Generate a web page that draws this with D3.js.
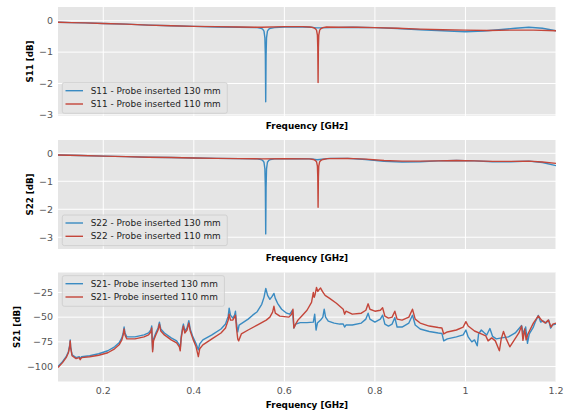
<!DOCTYPE html>
<html><head><meta charset="utf-8">
<script src="https://cdn.jsdelivr.net/npm/d3@7"></script>
<style>body{margin:0;background:#fff;} svg{display:block;} text{font-family:"DejaVu Sans",sans-serif;}</style>
</head><body><svg id="c" width="569" height="416"></svg>
<script>
const xTicks=[0.2,0.4,0.6,0.8,1.0,1.2];
const xTickLabels=["0.2","0.4","0.6","0.8","1","1.2"];
const s11Ticks=[0,-1,-2,-3];
const s22Ticks=[0,-1,-2,-3];
const s21Ticks=[-25,-50,-75,-100];
const s11Names=["S11 - Probe inserted 130 mm","S11 - Probe inserted 110 mm"];
const s22Names=["S22 - Probe inserted 130 mm","S22 - Probe inserted 110 mm"];
const s21Names=["S21- Probe inserted 130 mm","S21- Probe inserted 110 mm"];

const s11_130=[[0.10,-0.05],[0.13,-0.06],[0.16,-0.07],[0.20,-0.09],[0.25,-0.11],[0.30,-0.14],[0.35,-0.16],[0.40,-0.18],[0.45,-0.20],[0.50,-0.21],[0.540,-0.22],[0.548,-0.24],[0.552,-0.27],[0.555,-0.33],[0.557,-0.55],[0.558,-1.10],[0.5588,-2.58],[0.5596,-1.10],[0.5606,-0.55],[0.5626,-0.33],[0.5656,-0.27],[0.5696,-0.24],[0.578,-0.22],[0.60,-0.20],[0.64,-0.20],[0.66,-0.21],[0.67,-0.23],[0.68,-0.23],[0.70,-0.22],[0.75,-0.21],[0.80,-0.22],[0.85,-0.25],[0.90,-0.29],[0.95,-0.32],[1.00,-0.35],[1.04,-0.33],[1.08,-0.28],[1.11,-0.24],[1.14,-0.21],[1.17,-0.24],[1.20,-0.32]];
const s11_110=[[0.10,-0.05],[0.13,-0.06],[0.16,-0.07],[0.20,-0.09],[0.25,-0.11],[0.30,-0.14],[0.35,-0.16],[0.40,-0.18],[0.45,-0.19],[0.50,-0.20],[0.55,-0.21],[0.60,-0.19],[0.64,-0.19],[0.656,-0.20],[0.664,-0.22],[0.668,-0.25],[0.671,-0.30],[0.673,-0.46],[0.6738,-0.85],[0.6745,-1.97],[0.6752,-0.85],[0.676,-0.46],[0.678,-0.30],[0.681,-0.25],[0.685,-0.22],[0.693,-0.20],[0.72,-0.21],[0.76,-0.21],[0.80,-0.22],[0.85,-0.24],[0.90,-0.27],[0.95,-0.29],[1.00,-0.30],[1.05,-0.31],[1.10,-0.30],[1.15,-0.30],[1.20,-0.32]];

const s22_130=[[0.10,-0.06],[0.15,-0.08],[0.20,-0.10],[0.25,-0.12],[0.30,-0.14],[0.35,-0.15],[0.40,-0.17],[0.45,-0.18],[0.50,-0.19],[0.540,-0.20],[0.548,-0.22],[0.552,-0.25],[0.555,-0.32],[0.557,-0.56],[0.558,-1.20],[0.5588,-2.88],[0.5596,-1.20],[0.5606,-0.56],[0.5626,-0.32],[0.5656,-0.25],[0.5696,-0.22],[0.578,-0.20],[0.62,-0.19],[0.66,-0.20],[0.672,-0.23],[0.678,-0.22],[0.70,-0.18],[0.74,-0.18],[0.78,-0.22],[0.82,-0.29],[0.86,-0.31],[0.90,-0.30],[0.94,-0.27],[0.98,-0.26],[1.02,-0.27],[1.06,-0.30],[1.10,-0.30],[1.14,-0.28],[1.17,-0.33],[1.20,-0.44]];
const s22_110=[[0.10,-0.06],[0.15,-0.08],[0.20,-0.10],[0.25,-0.12],[0.30,-0.14],[0.35,-0.15],[0.40,-0.17],[0.45,-0.18],[0.50,-0.19],[0.55,-0.20],[0.60,-0.19],[0.655,-0.20],[0.664,-0.22],[0.668,-0.25],[0.671,-0.30],[0.673,-0.46],[0.6738,-0.85],[0.6745,-1.93],[0.6752,-0.85],[0.676,-0.46],[0.678,-0.30],[0.681,-0.25],[0.685,-0.22],[0.695,-0.19],[0.74,-0.18],[0.78,-0.21],[0.82,-0.26],[0.86,-0.28],[0.90,-0.28],[0.94,-0.27],[0.98,-0.26],[1.02,-0.27],[1.06,-0.29],[1.10,-0.29],[1.14,-0.28],[1.17,-0.31],[1.20,-0.36]];

const s21_130=[[0.100,-100],[0.110,-95],[0.118,-90],[0.123,-85],[0.126,-78],[0.127,-73],[0.128,-80],[0.131,-88],[0.140,-91],[0.147,-90],[0.149,-92],[0.152,-90],[0.170,-89],[0.190,-87],[0.210,-84],[0.225,-80],[0.235,-76],[0.241,-71],[0.244,-66],[0.246,-60],[0.248,-66],[0.252,-70],[0.270,-70],[0.290,-68],[0.300,-66],[0.305,-63],[0.307,-59],[0.308,-72],[0.309,-83],[0.311,-72],[0.316,-66],[0.321,-61],[0.324,-55],[0.327,-62],[0.335,-66],[0.350,-71],[0.362,-74],[0.368,-78],[0.370,-82],[0.372,-70],[0.375,-61],[0.377,-57],[0.380,-64],[0.385,-61],[0.389,-53.5],[0.392,-62],[0.398,-70],[0.405,-77],[0.410,-83],[0.413,-77],[0.420,-73],[0.440,-68],[0.460,-62],[0.470,-57],[0.476,-49],[0.478,-41],[0.481,-48],[0.486,-51],[0.490,-48],[0.492,-44],[0.494,-55],[0.497,-65],[0.500,-58],[0.510,-55],[0.520,-52],[0.530,-48],[0.540,-44.5],[0.550,-37],[0.555,-30],[0.559,-21],[0.563,-28],[0.568,-32],[0.573,-29],[0.577,-26],[0.580,-31],[0.585,-36],[0.594,-42],[0.605,-46],[0.612,-47],[0.615,-45],[0.618,-43],[0.621,-61],[0.625,-57],[0.635,-55.5],[0.650,-55.5],[0.664,-55],[0.667,-47],[0.670,-63],[0.673,-56],[0.680,-53],[0.685,-50],[0.688,-42],[0.691,-50],[0.697,-54],[0.710,-56],[0.722,-57],[0.730,-57],[0.733,-60],[0.736,-58],[0.750,-58],[0.770,-56],[0.780,-52],[0.785,-46],[0.789,-52],[0.800,-55],[0.812,-52],[0.817,-48],[0.822,-57],[0.830,-59],[0.838,-57],[0.844,-50.5],[0.849,-60],[0.860,-60],[0.875,-56],[0.883,-48],[0.889,-58],[0.900,-62],[0.920,-64.5],[0.940,-66],[0.948,-66.5],[0.952,-74],[0.960,-72],[0.980,-70],[0.995,-68],[1.001,-63],[1.006,-70],[1.014,-75],[1.020,-73],[1.026,-79],[1.029,-67],[1.035,-63],[1.042,-66],[1.047,-68],[1.054,-61.5],[1.060,-69.5],[1.068,-72],[1.080,-71],[1.095,-70],[1.110,-66],[1.124,-58.5],[1.128,-67],[1.133,-60],[1.137,-76.5],[1.141,-67],[1.150,-60],[1.155,-54],[1.161,-48.2],[1.166,-55],[1.172,-54],[1.178,-56],[1.184,-53],[1.188,-61],[1.192,-58],[1.200,-57]];

const s21_110=[[0.100,-101],[0.110,-96],[0.118,-91],[0.123,-86],[0.126,-79],[0.127,-74],[0.128,-81],[0.131,-89],[0.140,-92],[0.147,-91],[0.149,-93],[0.152,-91],[0.170,-90],[0.190,-88.5],[0.210,-86],[0.225,-82],[0.235,-78],[0.241,-73],[0.244,-68],[0.246,-62],[0.248,-68],[0.252,-72],[0.270,-72],[0.290,-70],[0.300,-68],[0.305,-65],[0.307,-61],[0.308,-74],[0.309,-85],[0.311,-74],[0.316,-68],[0.321,-63],[0.324,-57],[0.327,-64],[0.335,-68],[0.350,-73],[0.362,-76],[0.368,-80],[0.370,-84],[0.372,-72],[0.375,-63],[0.377,-59],[0.380,-66],[0.385,-63],[0.389,-56],[0.392,-64],[0.398,-72],[0.405,-80],[0.410,-90],[0.413,-82],[0.420,-78],[0.440,-72],[0.460,-66],[0.470,-61],[0.476,-53],[0.478,-47],[0.481,-53],[0.486,-53],[0.490,-50],[0.492,-48],[0.494,-60],[0.497,-72],[0.499,-74],[0.505,-67],[0.520,-63],[0.540,-58],[0.560,-53],[0.568,-50],[0.574,-45],[0.577,-39],[0.580,-46],[0.590,-49],[0.610,-50],[0.616,-47],[0.619,-42],[0.621,-61],[0.625,-57],[0.630,-53],[0.640,-48],[0.650,-43],[0.660,-35],[0.664,-25],[0.666,-30],[0.668,-27],[0.671,-20],[0.674,-24],[0.677,-22],[0.680,-20.5],[0.684,-24],[0.690,-28],[0.700,-31],[0.715,-36],[0.730,-42],[0.733,-47],[0.736,-44],[0.750,-47],[0.770,-46],[0.780,-43],[0.785,-36.5],[0.789,-42],[0.800,-44],[0.812,-43],[0.817,-40.5],[0.822,-49],[0.830,-51],[0.838,-50],[0.844,-44],[0.849,-52],[0.860,-53],[0.875,-50],[0.883,-42],[0.889,-52],[0.900,-56],[0.920,-59],[0.940,-60.5],[0.948,-61],[0.952,-67],[0.960,-65],[0.980,-63],[0.995,-60],[1.001,-54.6],[1.006,-59],[1.020,-64],[1.035,-67],[1.045,-69],[1.050,-74],[1.058,-71],[1.066,-74],[1.075,-84],[1.079,-72],[1.084,-64.5],[1.090,-72],[1.098,-80],[1.108,-73],[1.118,-66],[1.124,-59],[1.127,-73.5],[1.131,-62],[1.134,-73],[1.138,-67],[1.150,-56],[1.161,-48.8],[1.168,-53],[1.176,-56],[1.183,-53],[1.189,-60],[1.193,-57],[1.200,-56]];

const colors=["#3a8bc2","#c4463a"];
const X0=58, X1=556;
const panels=[
 {top:7,bottom:116,dom:[-3.035,0.436],ticks:s11Ticks,series:[s11_130,s11_110],names:s11Names,ylab:"S11 [dB]",ylabX:30,legTop:82.7,xlabY:128.5,showX:false},
 {top:140,bottom:249,dom:[-3.42,0.475],ticks:s22Ticks,series:[s22_130,s22_110],names:s22Names,ylab:"S22 [dB]",ylabX:30,legTop:215,xlabY:260.5,showX:false},
 {top:272.5,bottom:381.5,dom:[-115.1,-4.84],ticks:s21Ticks,series:[s21_130,s21_110],names:s21Names,ylab:"S21 [dB]",ylabX:16.5,legTop:275.7,xlabY:407.5,showX:true}
];
const svg=d3.select("#c");
const x=d3.scaleLinear().domain([0.1,1.2]).range([X0,X1]);
const fmt=d3.format("~g");
panels.forEach((p,i)=>{
  const y=d3.scaleLinear().domain(p.dom).range([p.bottom,p.top]);
  const g=svg.append("g");
  g.append("rect").attr("x",X0).attr("y",p.top).attr("width",X1-X0).attr("height",p.bottom-p.top).attr("fill","#e5e5e5");
  g.append("clipPath").attr("id","cp"+i).append("rect").attr("x",X0).attr("y",p.top).attr("width",X1-X0).attr("height",p.bottom-p.top);
  g.selectAll(".vg").data(xTicks).enter().append("line").attr("x1",d=>x(d)).attr("x2",d=>x(d)).attr("y1",p.top).attr("y2",p.bottom).attr("stroke","#fff").attr("stroke-width",1);
  g.selectAll(".hg").data(p.ticks).enter().append("line").attr("x1",X0).attr("x2",X1).attr("y1",d=>y(d)).attr("y2",d=>y(d)).attr("stroke","#fff").attr("stroke-width",1);
  g.selectAll(".yt").data(p.ticks).enter().append("text").attr("x",53).attr("y",d=>y(d)).attr("dy","0.35em").attr("text-anchor","end").attr("font-size","9.5px").attr("fill","#555").text(d=>fmt(d));
  if(p.showX){
    g.selectAll(".xt").data(xTicks).enter().append("text").attr("x",d=>x(d)).attr("y",394).attr("text-anchor","middle").attr("font-size","9.5px").attr("fill","#555").text((d,j)=>xTickLabels[j]);
  }
  const line=d3.line().x(d=>x(d[0])).y(d=>y(d[1]));
  const lg=g.append("g").attr("clip-path","url(#cp"+i+")");
  p.series.forEach((s,k)=>{
    lg.append("path").datum(s).attr("d",line).attr("fill","none").attr("stroke",colors[k]).attr("stroke-width",1.4).attr("stroke-linejoin","round");
  });
  g.append("text").attr("x",(X0+X1)/2).attr("y",p.xlabY).attr("text-anchor","middle").attr("font-size","8.8px").attr("font-weight","bold").attr("fill","#000").text("Frequency [GHz]");
  g.append("text").attr("transform",`translate(${p.ylabX},${(p.top+p.bottom)/2}) rotate(-90)`).attr("dy","0.35em").attr("text-anchor","middle").attr("font-size","8.7px").attr("font-weight","bold").attr("fill","#000").text(p.ylab);
  // legend
  const leg=g.append("g");
  const box=leg.append("rect").attr("x",62.3).attr("y",p.legTop).attr("height",30.6).attr("rx",2).attr("fill","#e5e5e5").attr("fill-opacity",0.8).attr("stroke","#cccccc").attr("stroke-width",0.8);
  let maxW=0;
  p.names.forEach((n,k)=>{
    const cy=p.legTop+8+k*13.3;
    leg.append("line").attr("x1",65.5).attr("x2",83).attr("y1",cy).attr("y2",cy).attr("stroke",colors[k]).attr("stroke-width",1.4);
    const t=leg.append("text").attr("x",90.7).attr("y",cy).attr("dy","0.35em").attr("font-size","8.9px").attr("fill","#222").text(n);
    maxW=Math.max(maxW,t.node().getComputedTextLength());
  });
  box.attr("width",90.7+maxW+6.5-62.3);
});
</script></body></html>
